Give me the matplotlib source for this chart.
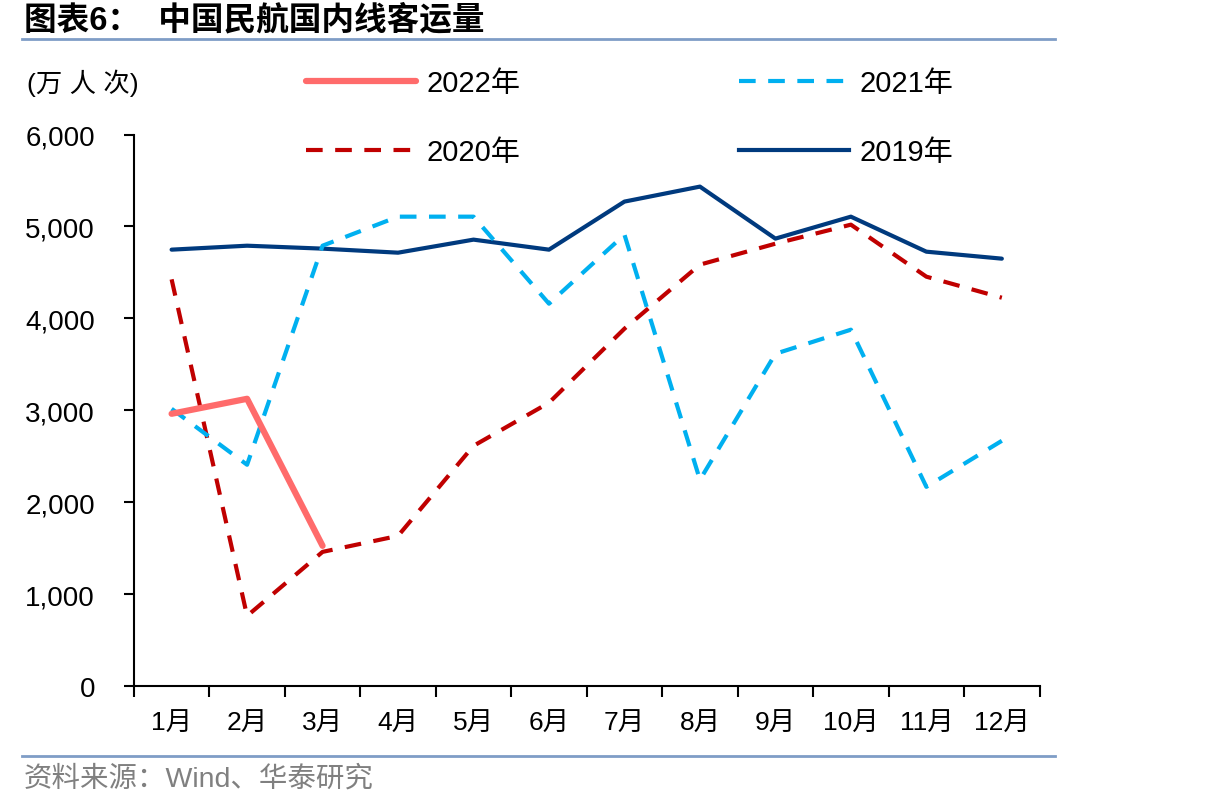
import matplotlib
matplotlib.use("Agg")
import matplotlib.pyplot as plt
from matplotlib.lines import Line2D
import numpy as np

plt.rcParams['font.family'] = ['Liberation Sans', 'Noto Sans CJK SC', 'DejaVu Sans']

months = ['1月', '2月', '3月', '4月', '5月', '6月', '7月', '8月', '9月', '10月', '11月', '12月']
y2019 = [4748, 4791, 4759, 4715, 4857, 4748, 5271, 5434, 4868, 5107, 4726, 4650]
y2020 = [4425, 762, 1459, 1633, 2613, 3082, 3888, 4585, 4813, 5020, 4454, 4225]
y2021 = [3016, 2407, 4791, 5107, 5107, 4160, 4911, 2243, 3615, 3877, 2167, 2668]
y2022 = [2962, 3125, 1525]

c2022 = '#FF6B6B'
c2021 = '#00B0F0'
c2020 = '#C00000'
c2019 = '#003A7E'

fig = plt.figure(figsize=(12.06, 8.12), dpi=100)
ax = fig.add_axes([0.111, 0.154, 0.751, 0.679])

x = np.arange(len(months))
ax.plot(x, y2019, color=c2019, lw=3, solid_capstyle='round', zorder=3)
ax.plot(x, y2020, color=c2020, lw=3, dashes=(4, 3), zorder=3)
ax.plot(x, y2021, color=c2021, lw=3, dashes=(4, 3), zorder=3)
ax.plot(x[:len(y2022)], y2022, color=c2022, lw=4.5, solid_capstyle='round', zorder=4)

ax.set_xlim(-0.5, len(months) - 0.5)
ax.set_ylim(0, 6000)
ax.set_yticks(range(0, 6001, 1000))
ax.set_yticklabels([f'{v:,}' for v in range(0, 6001, 1000)], fontsize=20)
ax.set_xticks(x)
ax.set_xticklabels(months, fontsize=19)
ax.set_xticks(np.arange(-0.5, len(months)), minor=True)
ax.tick_params(axis='x', which='major', length=0, pad=18)
ax.tick_params(axis='x', which='minor', length=8, width=1.5, direction='out')
ax.tick_params(axis='y', length=7, width=1.5, direction='out', pad=21)
for s in ['top', 'right']:
    ax.spines[s].set_visible(False)
for s in ['left', 'bottom']:
    ax.spines[s].set_linewidth(1.5)

handles = [
    Line2D([], [], color=c2022, lw=4.5, solid_capstyle='round'),
    Line2D([], [], color=c2020, lw=3, dashes=(4, 3)),
    Line2D([], [], color=c2021, lw=3, dashes=(4, 3)),
    Line2D([], [], color=c2019, lw=3),
]
labels = ['2022年', '2020年', '2021年', '2019年']
fig.legend(handles, labels, ncol=2, frameon=False, fontsize=21,
           loc='center left', bbox_to_anchor=(0.232, 0.854),
           handlelength=3.77, handletextpad=0.35, columnspacing=7.5,
           labelspacing=1.42)

fig.text(0.022, 0.898, '(万 人 次)', fontsize=19, va='center', ha='left')

fig.text(0.02, 0.975, '图表6：  中国民航国内线客运量', fontsize=23.5, fontweight='bold',
         va='center', ha='left')
fig.add_artist(Line2D([0.018, 0.875], [0.951, 0.951], color='#7F9DC6', lw=2))
fig.add_artist(Line2D([0.018, 0.875], [0.068, 0.068], color='#7F9DC6', lw=2))
fig.text(0.02, 0.04, '资料来源：Wind、华泰研究', fontsize=20.5, color='#808080',
         va='center', ha='left')

fig.savefig('out.png', dpi=100)
